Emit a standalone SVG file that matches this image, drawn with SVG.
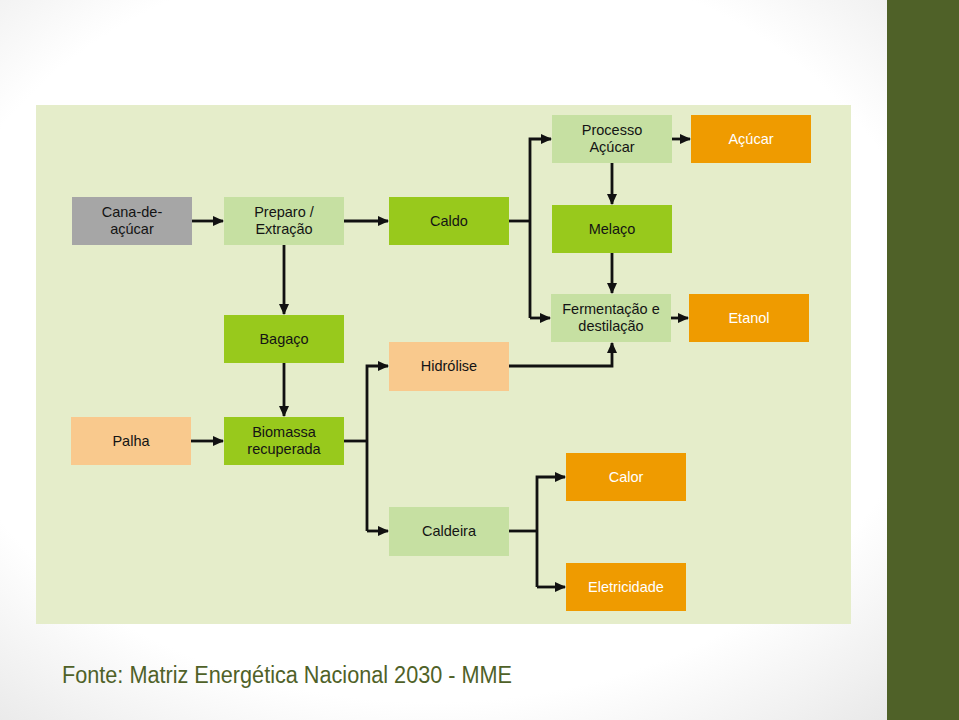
<svg xmlns="http://www.w3.org/2000/svg" width="959" height="720" viewBox="0 0 959 720">
<defs>
<radialGradient id="bg" cx="0.45" cy="0.45" r="0.75">
<stop offset="0.7" stop-color="#ffffff"/>
<stop offset="1" stop-color="#e6e6e6"/>
</radialGradient>
<marker id="ah" markerWidth="11" markerHeight="11" refX="10" refY="5.5" orient="auto" markerUnits="userSpaceOnUse">
<path d="M0,0.5 L11,5.5 L0,10.5 Z" fill="#111"/>
</marker>
<style>
.n{font-family:"Liberation Sans","Open Sans",sans-serif;font-size:14.5px;text-anchor:middle;fill:#141414}
.w{fill:#ffffff}
.gray{fill:#a6a6a6}
.lg{fill:#c6e0a2}
.bg{fill:#98c91c}
.pe{fill:#f9c98d}
.or{fill:#ef9b00}
.c{fill:none;stroke:#111;stroke-width:2.8}
</style>
</defs>
<rect x="0" y="0" width="959" height="720" fill="url(#bg)"/>
<rect x="887" y="0" width="72" height="720" fill="#4f6128"/>
<rect x="36" y="105" width="815" height="519" fill="#e5edca"/>

<g id="connectors">
<path class="c" d="M192,221 H223" marker-end="url(#ah)"/>
<path class="c" d="M344,221 H388" marker-end="url(#ah)"/>
<path class="c" d="M509,221 H530"/>
<path class="c" d="M530,318 V139 H551" marker-end="url(#ah)"/>
<path class="c" d="M530,318 H550" marker-end="url(#ah)"/>
<path class="c" d="M672,139 H690" marker-end="url(#ah)"/>
<path class="c" d="M612,163 V204" marker-end="url(#ah)"/>
<path class="c" d="M612,253 V293" marker-end="url(#ah)"/>
<path class="c" d="M671,318 H688" marker-end="url(#ah)"/>
<path class="c" d="M509,366 H612 V343" marker-end="url(#ah)"/>
<path class="c" d="M284,245 V314" marker-end="url(#ah)"/>
<path class="c" d="M284,363 V416" marker-end="url(#ah)"/>
<path class="c" d="M191,441 H223" marker-end="url(#ah)"/>
<path class="c" d="M344,441 H367"/>
<path class="c" d="M367,531 V366 H388" marker-end="url(#ah)"/>
<path class="c" d="M367,531 H388" marker-end="url(#ah)"/>
<path class="c" d="M509,531 H537"/>
<path class="c" d="M537,587 V477 H565" marker-end="url(#ah)"/>
<path class="c" d="M537,587 H565" marker-end="url(#ah)"/>
</g>

<g id="cana"><rect class="gray" x="72" y="197" width="120" height="48"/><text class="n" x="132" y="217">Cana-de-</text><text class="n" x="132" y="234">açúcar</text></g>
<g id="preparo"><rect class="lg" x="224" y="197" width="120" height="48"/><text class="n" x="284" y="217">Preparo /</text><text class="n" x="284" y="234">Extração</text></g>
<g id="caldo"><rect class="bg" x="389" y="197" width="120" height="48"/><text class="n" x="449" y="226">Caldo</text></g>
<g id="processo"><rect class="lg" x="552" y="115" width="120" height="48"/><text class="n" x="612" y="135">Processo</text><text class="n" x="612" y="152">Açúcar</text></g>
<g id="acucar"><rect class="or" x="691" y="115" width="120" height="48"/><text class="n w" x="751" y="144">Açúcar</text></g>
<g id="melaco"><rect class="bg" x="552" y="205" width="120" height="48"/><text class="n" x="612" y="234">Melaço</text></g>
<g id="fermentacao"><rect class="lg" x="551" y="294" width="120" height="48"/><text class="n" x="611" y="314">Fermentação e</text><text class="n" x="611" y="331">destilação</text></g>
<g id="etanol"><rect class="or" x="689" y="294" width="120" height="48"/><text class="n w" x="749" y="323">Etanol</text></g>
<g id="bagaco"><rect class="bg" x="224" y="315" width="120" height="48"/><text class="n" x="284" y="344">Bagaço</text></g>
<g id="hidrolise"><rect class="pe" x="389" y="342" width="120" height="49"/><text class="n" x="449" y="371">Hidrólise</text></g>
<g id="palha"><rect class="pe" x="71" y="417" width="120" height="48"/><text class="n" x="131" y="446">Palha</text></g>
<g id="biomassa"><rect class="bg" x="224" y="417" width="120" height="48"/><text class="n" x="284" y="437">Biomassa</text><text class="n" x="284" y="454">recuperada</text></g>
<g id="calor"><rect class="or" x="566" y="453" width="120" height="48"/><text class="n w" x="626" y="482">Calor</text></g>
<g id="caldeira"><rect class="lg" x="389" y="507" width="120" height="49"/><text class="n" x="449" y="536">Caldeira</text></g>
<g id="eletricidade"><rect class="or" x="566" y="563" width="120" height="48"/><text class="n w" x="626" y="592">Eletricidade</text></g>

<text x="62" y="683" font-family="Liberation Sans, sans-serif" font-size="23" fill="#4f6128" textLength="450" lengthAdjust="spacingAndGlyphs">Fonte: Matriz Energética Nacional 2030 - MME</text>
</svg>
